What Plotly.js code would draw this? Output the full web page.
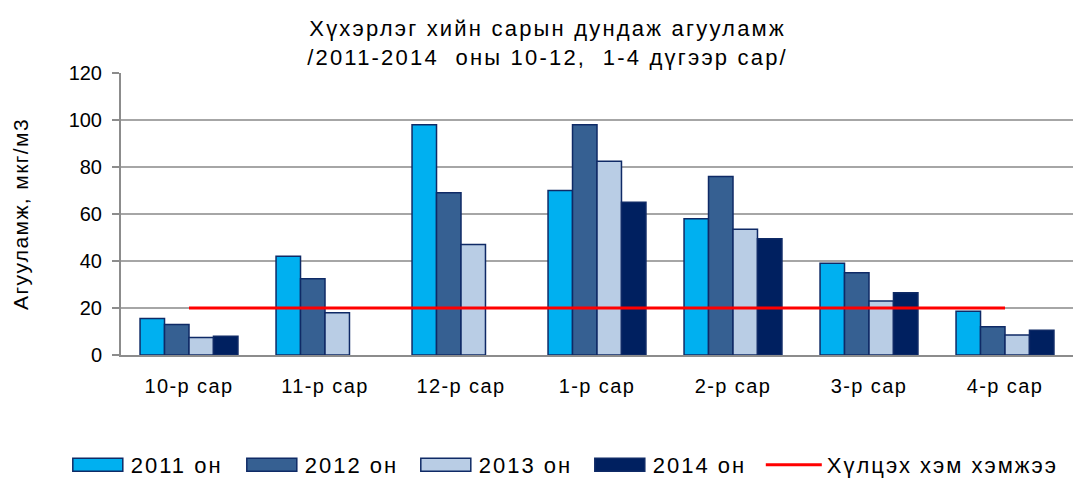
<!DOCTYPE html>
<html>
<head>
<meta charset="utf-8">
<script src="https://cdn.plot.ly/plotly-3.0.1.min.js"></script>
<style>
html,body{margin:0;padding:0;background:#fff;}
#chart{width:1080px;height:479px;}
#chart .gtitle { letter-spacing: 2.2px; }
#chart .xtick text, #chart .ytitle { letter-spacing: 1.4px; }
#chart .legendtext { letter-spacing: 2px; }
</style>
</head>
<body>
<div id="chart"></div>
<script>
const categories = ["10-р сар", "11-р сар", "12-р сар", "1-р сар", "2-р сар", "3-р сар", "4-р сар"];
const y2011 = [15.5, 42, 98, 70, 58, 39, 18.6];
const y2012 = [13, 32.5, 69, 98, 76, 35, 12];
const y2013 = [7.5, 18, 47, 82.5, 53.5, 23, 8.5];
const y2014 = [8, null, null, 65, 49.5, 26.5, 10.5];
const limit = [20, 20, 20, 20, 20, 20, 20];
const seriesNames = ["2011 он", "2012 он", "2013 он", "2014 он", "Хүлцэх хэм хэмжээ"];

const colors = ["#00B0F0", "#366092", "#B9CDE5", "#002060"];
const outline = "#0F2A66";
const font = "Liberation Sans, Arial, sans-serif";

const barData = [y2011, y2012, y2013, y2014];
const traces = barData.map((ys, i) => ({
  type: "bar",
  name: seriesNames[i],
  x: categories,
  y: ys,
  marker: {color: colors[i], line: {color: outline, width: 1.5}},
  hoverinfo: "x+y"
}));
traces.push({
  type: "scatter",
  mode: "lines",
  name: seriesNames[4],
  x: categories,
  y: limit,
  line: {color: "#FF0000", width: 3}
});

const layout = {
  width: 1080, height: 479,
  margin: {l: 121, r: 7, t: 73, b: 124},
  paper_bgcolor: "#fff", plot_bgcolor: "#fff",
  font: {family: font, size: 20, color: "#000"},
  title: {
    text: "Хүхэрлэг хийн сарын дундаж агууламж<br>/2011-2014  оны 10-12,  1-4 дүгээр сар/",
    font: {family: font, size: 22, color: "#000"},
    x: 0.507, xref: "container", xanchor: "center",
    y: 0.925, yref: "container", yanchor: "top"
  },
  barmode: "group",
  bargap: 0.28,
  bargroupgap: 0,
  showlegend: true,
  legend: {
    orientation: "h",
    xref: "container", x: 0.06, xanchor: "left",
    yref: "container", y: 0.0, yanchor: "bottom",
    font: {family: font, size: 22, color: "#000"},
    traceorder: "normal",
    itemwidth: 56,
    entrywidth: 103,
    tracegroupgap: 0
  },
  xaxis: {
    type: "category",
    showgrid: false,
    showline: true, linecolor: "#8C8C8C", linewidth: 2,
    ticks: "", tickfont: {family: font, size: 20},
    ticklabelstandoff: 12
  },
  yaxis: {
    range: [0, 120],
    dtick: 20,
    showgrid: true, gridcolor: "#A6A6A6", gridwidth: 2,
    showline: true, linecolor: "#8C8C8C", linewidth: 2,
    ticks: "outside", ticklen: 7, tickcolor: "#8C8C8C", tickwidth: 1.5,
    zeroline: false,
    ticklabelstandoff: 6,
    tickfont: {family: font, size: 20},
    title: {text: "Агууламж, мкг/м3", font: {family: font, size: 21}, standoff: 34}
  }
};

Plotly.newPlot("chart", traces, layout, {displayModeBar: false, staticPlot: true}).then(() => {
  const legend = document.querySelector("#chart .legend");
  if (legend) {
    // let the last legend label run past its fixed entry width
    legend.removeAttribute("clip-path");
    legend.querySelectorAll(".scrollbox").forEach(el => el.removeAttribute("clip-path"));
    // nudge the legend down to sit near the bottom edge, as in the reference
    const t = legend.getAttribute("transform") || "";
    const m = t.match(/translate\(\s*([-\d.]+)[ ,]+([-\d.]+)\s*\)/);
    if (m) legend.setAttribute("transform", `translate(${m[1]},${parseFloat(m[2]) + 7})`);
    // widen the bar swatches to Excel-style rectangles
    legend.querySelectorAll(".traces").forEach((g, i) => {
      if (i < 4) {
        g.querySelectorAll(".legendpoints path").forEach(p => {
          p.setAttribute("d", "M25,6.5H-25V-6.5H25Z");
        });
      }
    });
  }
});
</script>
</body>
</html>
